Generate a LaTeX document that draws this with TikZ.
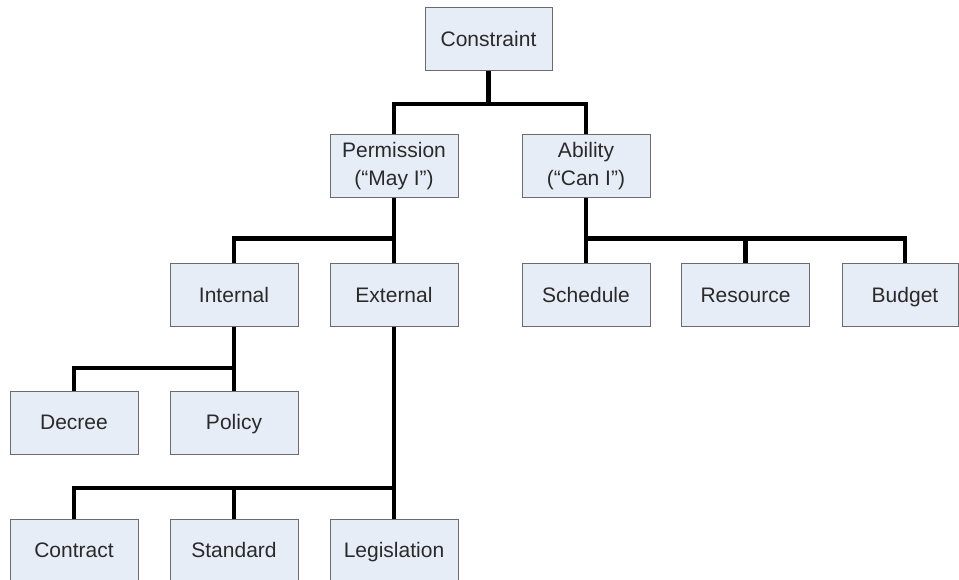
\documentclass[tikz,border=0pt]{standalone}
\usepackage{fontspec}
\setmainfont{Liberation Sans}
\usetikzlibrary{calc}
\definecolor{boxfill}{HTML}{E7EDF7}
\definecolor{boxgray}{HTML}{6B6B6B}
\definecolor{textgray}{HTML}{2A2A2A}
\begin{document}
\begin{tikzpicture}[x=1pt,y=-1pt,
  box/.style={draw=boxgray, fill=boxfill, line width=1pt, minimum width=128pt,
    minimum height=63pt, inner sep=0pt, font=\fontsize{21}{28}\selectfont,
    text=textgray, align=center},
  one/.style={box, text height=19pt, text depth=4.3pt},
  link/.style={line width=4.8pt, draw=black}]
\useasboundingbox (0,0) rectangle (959,580);
\fill[white] (0,0) rectangle (959,580);
% nodes
\node[one, minimum width=127pt] (constraint) at (488.5,39.5) {Constraint};
\node[box] (permission) at (394,166.5) {Permission\\(“May I”)};
\node[box] (ability) at (586,166.5) {Ability\\(“Can I”)};
\node[one] (internal) at (234,295) {Internal};
\node[one] (external) at (394,295) {External};
\node[one] (schedule) at (586,295) {Schedule};
\node[one] (resource) at (745.5,295) {Resource};
\node[one, minimum width=116pt] (budget) at (900,295) {\hspace*{10pt}Budget};
\node[one] (decree) at (74,422.5) {Decree};
\node[one] (policy) at (234,422.5) {Policy};
\node[one] (contract) at (74,550.5) {Contract};
\node[one] (standard) at (234,550.5) {Standard};
\node[one] (legislation) at (394,550.5) {Legislation};
% junction coordinates
\coordinate (b1) at (488.5,104);
\coordinate (b2) at (394,238.5);
\coordinate (b3) at (586,238.5);
\coordinate (b4) at (234,368);
\coordinate (b5) at (394,488);
\coordinate (bt) at ($(budget.north)+(5,0)$);
% connectors
\draw[link] (constraint.south) -- (b1);
\draw[link] (permission.north) |- (b1) -| (ability.north);
\draw[link] (permission.south) -- (external.north);
\draw[link] (b2) -| (internal.north);
\draw[link] (ability.south) -- (schedule.north);
\draw[link] (b3) -| (bt);
\draw[link] (resource.north) -- (resource.north |- b3);
\draw[link] (internal.south) -- (policy.north);
\draw[link] (b4) -| (decree.north);
\draw[link] (external.south) -- (legislation.north);
\draw[link] (b5) -| (contract.north);
\draw[link] (standard.north) -- (standard.north |- b5);
\end{tikzpicture}
\end{document}
